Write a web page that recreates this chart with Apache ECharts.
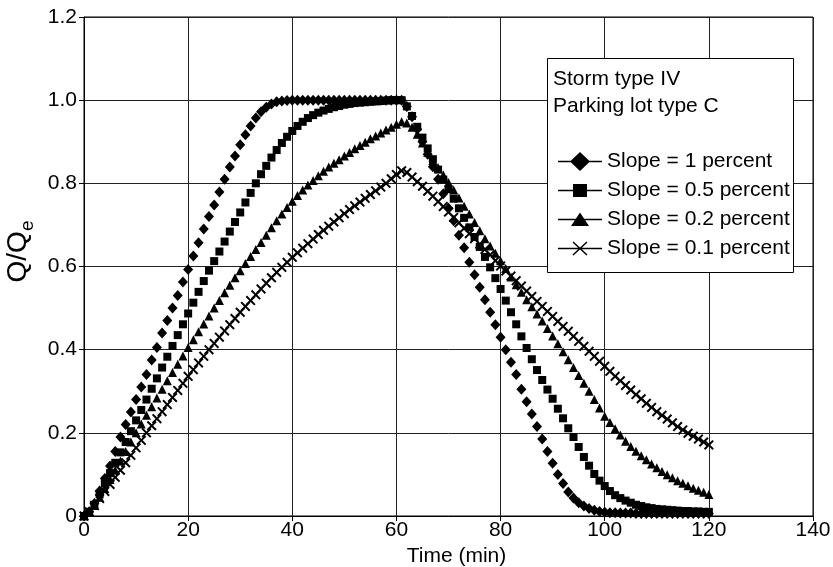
<!DOCTYPE html>
<html>
<head>
<meta charset="utf-8">
<script src="https://cdn.jsdelivr.net/npm/echarts@6/dist/echarts.min.js"></script>
<style>html,body{margin:0;padding:0;background:#fff}#c{width:833px;height:567px}</style>
</head>
<body>
<div id="c"></div>
<script>
const time = [0,1,2,3,4,5,6,7,8,9,10,11,12,13,14,15,16,17,18,19,20,21,22,23,24,25,26,27,28,29,30,31,32,33,34,35,36,37,38,39,40,41,42,43,44,45,46,47,48,49,50,51,52,53,54,55,56,57,58,59,60,61,62,63,64,65,66,67,68,69,70,71,72,73,74,75,76,77,78,79,80,81,82,83,84,85,86,87,88,89,90,91,92,93,94,95,96,97,98,99,100,101,102,103,104,105,106,107,108,109,110,111,112,113,114,115,116,117,118,119,120];

const slope1 = [
0,0.01,0.03,0.06,0.09,0.12,0.155,0.19,0.22,0.25,
0.28,0.31,0.34,0.375,0.405,0.44,0.47,0.5,0.53,0.563,
0.593,0.625,0.657,0.69,0.72,0.748,0.779,0.81,0.839,0.866,
0.893,0.917,0.938,0.957,0.972,0.983,0.991,0.996,0.998,0.999,
1,1,1,1,1,1,1,1,1,1,
1,1,1,1,1,1,1,1,1,1,
1,1,0.985,0.96,0.93,0.9,0.87,0.84,0.81,0.775,
0.74,0.71,0.675,0.645,0.61,0.58,0.55,0.52,0.49,0.46,
0.43,0.4,0.37,0.34,0.305,0.275,0.245,0.215,0.185,0.155,
0.127,0.1,0.078,0.058,0.043,0.032,0.024,0.018,0.014,0.011,
0.009,0.008,0.008,0.007,0.007,0.007,0.006,0.006,0.006,0.006,
0.006,0.006,0.006,0.006,0.006,0.006,0.006,0.006,0.006,0.006,0.006];

const slope05 = [
0,0.01,0.027,0.052,0.078,0.103,0.128,0.153,0.178,0.204,
0.23,0.255,0.28,0.306,0.331,0.357,0.383,0.409,0.435,0.461,
0.487,0.513,0.539,0.565,0.59,0.613,0.636,0.66,0.684,0.707,
0.73,0.754,0.777,0.8,0.822,0.842,0.862,0.88,0.897,0.912,
0.926,0.938,0.948,0.957,0.964,0.97,0.975,0.979,0.983,0.986,
0.989,0.991,0.993,0.994,0.995,0.996,0.997,0.998,0.999,1,
1,1,0.985,0.962,0.936,0.91,0.884,0.858,0.833,0.809,
0.786,0.763,0.74,0.717,0.694,0.671,0.647,0.623,0.598,0.572,
0.546,0.518,0.49,0.461,0.432,0.404,0.377,0.351,0.327,0.304,
0.282,0.258,0.235,0.211,0.19,0.166,0.142,0.121,0.101,0.085,
0.072,0.06,0.05,0.043,0.037,0.032,0.027,0.024,0.021,0.019,
0.017,0.016,0.015,0.014,0.013,0.012,0.012,0.011,0.011,0.01,0.01];

const slope02 = [
0,0.01,0.025,0.045,0.066,0.088,0.11,0.132,0.155,0.178,
0.2,0.221,0.242,0.263,0.284,0.305,0.325,0.345,0.365,0.385,
0.405,0.424,0.443,0.462,0.481,0.5,0.518,0.537,0.555,0.573,
0.59,0.607,0.624,0.641,0.658,0.675,0.693,0.71,0.726,0.742,
0.757,0.771,0.784,0.796,0.807,0.818,0.829,0.839,0.848,0.857,
0.866,0.874,0.883,0.891,0.899,0.907,0.914,0.921,0.928,0.935,
0.942,0.948,0.945,0.935,0.918,0.897,0.875,0.855,0.838,0.82,
0.802,0.784,0.765,0.745,0.726,0.706,0.686,0.667,0.649,0.632,
0.614,0.595,0.575,0.556,0.538,0.52,0.503,0.486,0.469,0.451,
0.433,0.414,0.395,0.376,0.357,0.338,0.319,0.3,0.28,0.26,
0.24,0.225,0.21,0.195,0.18,0.167,0.156,0.145,0.135,0.125,
0.116,0.107,0.099,0.092,0.085,0.079,0.073,0.067,0.062,0.057,0.052];

const slope01 = [
0,0.01,0.025,0.042,0.059,0.076,0.093,0.11,0.128,0.146,
0.164,0.182,0.2,0.217,0.234,0.251,0.268,0.285,0.302,0.319,
0.336,0.352,0.368,0.384,0.4,0.415,0.43,0.445,0.46,0.475,
0.49,0.504,0.518,0.532,0.546,0.56,0.573,0.586,0.598,0.61,
0.622,0.633,0.644,0.655,0.666,0.677,0.687,0.697,0.707,0.717,
0.727,0.737,0.746,0.755,0.764,0.773,0.782,0.791,0.8,0.811,
0.821,0.83,0.826,0.815,0.804,0.793,0.781,0.769,0.756,0.744,
0.731,0.718,0.705,0.692,0.679,0.667,0.654,0.641,0.628,0.614,
0.601,0.589,0.577,0.566,0.553,0.541,0.528,0.516,0.504,0.492,
0.48,0.468,0.456,0.444,0.432,0.42,0.408,0.396,0.384,0.372,
0.36,0.348,0.336,0.325,0.314,0.303,0.292,0.282,0.271,0.261,
0.251,0.242,0.233,0.224,0.215,0.207,0.199,0.192,0.185,0.178,0.171];

const seriesNames = ['Slope = 1 percent','Slope = 0.5 percent','Slope = 0.2 percent','Slope = 0.1 percent'];
const boxLines = ['Storm type IV','Parking lot type C'];
const xTicks = ['0','20','40','60','80','100','120','140'];
const yTicks = ['0','0.2','0.4','0.6','0.8','1.0','1.2'];

const FONT = "'Liberation Sans', Arial, sans-serif";
const corners = 'M0,0 L0.01,0 L0,0.01 Z M44,20 L43.99,20 L44,19.99 Z ';
const legLine = 'M0,9.3 L44,9.3 L44,10.7 L0,10.7 Z ';
const legendIcons = [
  'path://' + corners + legLine + 'M22,0.5 L32,10 L22,19.5 L12,10 Z',
  'path://' + corners + legLine + 'M15,3.5 L29,3.5 L29,16.5 L15,16.5 Z',
  'path://' + corners + legLine + 'M22,3 L31,16.5 L13,16.5 Z',
  'path://' + corners + legLine + 'M15.51,2.95 L29.51,15.95 L28.49,17.05 L14.49,4.05 Z M29.51,4.05 L15.51,17.05 L14.49,15.95 L28.49,2.95 Z'
];
const crossSym = 'path://M1.4,0 L5,3.6 L8.6,0 L10,1.4 L6.4,5 L10,8.6 L8.6,10 L5,6.4 L1.4,10 L0,8.6 L3.6,5 L0,1.4 Z';
const symbols = ['diamond','rect','triangle',crossSym];
const sizes = [[10,11],8,[9,9],10];
const values = [slope1, slope05, slope02, slope01];

const chart = echarts.init(document.getElementById('c'));
chart.setOption({
  backgroundColor: '#fff',
  animation: false,
  textStyle: {fontFamily: FONT},
  grid: {left: 84, right: 20, top: 17, bottom: 51, show: true, borderColor: '#000', borderWidth: 1,
    containLabel: false, outerBoundsMode: 'none'},
  xAxis: {
    type: 'value', min: 0, max: 140, interval: 20,
    name: 'Time (min)', nameLocation: 'middle', nameGap: 22,
    nameTextStyle: {fontSize: 21, color: '#000', fontFamily: FONT, padding: [0,0,0,16]},
    axisLine: {lineStyle: {color: '#000', width: 1}},
    axisTick: {show: true, length: 5, lineStyle: {color: '#000'}},
    axisLabel: {fontSize: 21, color: '#000', margin: 4, fontFamily: FONT,
      formatter: v => xTicks[Math.round(v / 20)]},
    splitLine: {show: true, lineStyle: {color: '#222', width: 1}}
  },
  yAxis: {
    type: 'value', min: 0, max: 1.2, interval: 0.2,
    name: '{a|Q/Q}{b|e}', nameLocation: 'middle', nameGap: 43,
    nameTextStyle: {color: '#000', fontFamily: FONT, padding: [0,0,0,30],
      rich: {
        a: {fontSize: 28, lineHeight: 38, color: '#000', fontFamily: FONT},
        b: {fontSize: 19, lineHeight: 14, verticalAlign: 'bottom', color: '#000', fontFamily: FONT}
      }},
    axisLine: {show: true, lineStyle: {color: '#000', width: 1}},
    axisTick: {show: true, length: 5, lineStyle: {color: '#000'}},
    axisLabel: {fontSize: 21, color: '#000', margin: 7, fontFamily: FONT,
      formatter: v => yTicks[Math.round(v / 0.2)]},
    splitLine: {show: true, lineStyle: {color: '#222', width: 1}}
  },
  graphic: [
    {type: 'rect', left: 547, top: 58, shape: {width: 246, height: 214},
      style: {fill: '#fff', stroke: '#000', lineWidth: 1}, z: 10},
    {type: 'text', left: 553, top: 69, style: {text: boxLines[0], fontSize: 21, fontFamily: FONT, fill: '#000'}, z: 11},
    {type: 'text', left: 553, top: 96, style: {text: boxLines[1], fontSize: 21, fontFamily: FONT, fill: '#000'}, z: 11}
  ],
  legend: {
    orient: 'vertical', left: 553, top: 146, itemWidth: 44, itemHeight: 20, itemGap: 8,
    selectedMode: false, z: 12,
    textStyle: {fontSize: 21, color: '#000', fontFamily: FONT, lineHeight: 20},
    data: seriesNames.map((n, i) => ({name: n, icon: legendIcons[i], itemStyle: {color: '#000'}}))
  },
  series: seriesNames.map((n, i) => ({
    name: n, type: 'scatter', symbol: symbols[i], symbolSize: sizes[i],
    itemStyle: {color: '#000', opacity: 1},
    emphasis: {disabled: true},
    data: time.map((t, k) => [t, values[i][k]])
  }))
});
</script>
</body>
</html>
